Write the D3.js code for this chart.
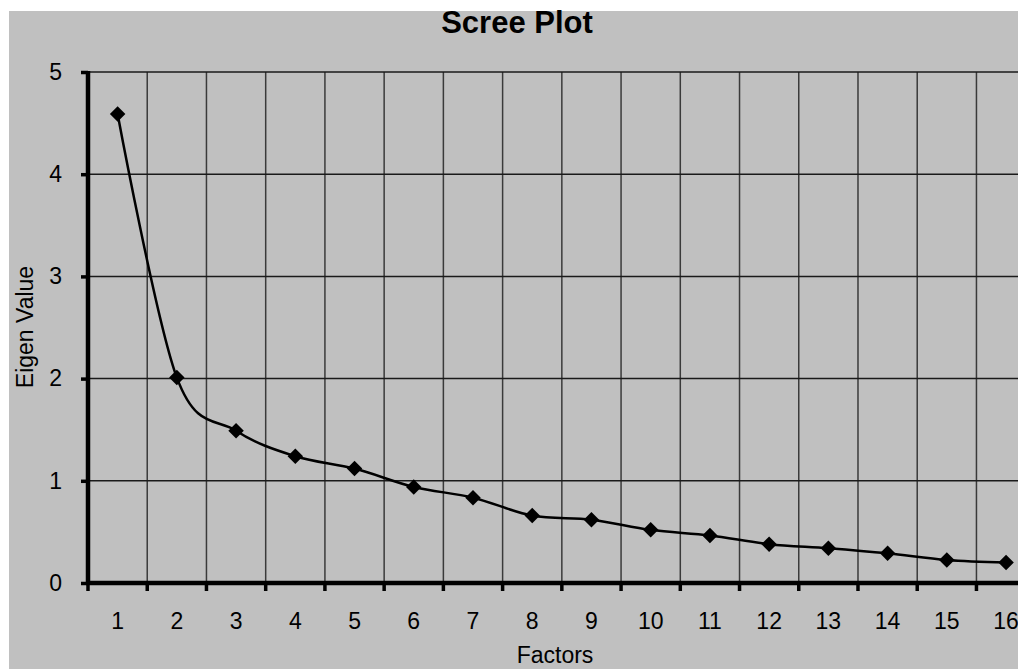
<!DOCTYPE html>
<html>
<head>
<meta charset="utf-8">
<script src="https://cdn.jsdelivr.net/npm/d3@7"></script>
<style>
  html, body { margin: 0; padding: 0; background: #ffffff; }
  svg { display: block; }
  text { font-family: "Liberation Sans", Arial, sans-serif; fill: #000; }
</style>
</head>
<body>
<svg id="chart" width="1018" height="669"></svg>
<script>
const factors = [1, 2, 3, 4, 5, 6, 7, 8, 9, 10, 11, 12, 13, 14, 15, 16];
const eigenValues = [4.59, 2.01, 1.49, 1.24, 1.12, 0.94, 0.835, 0.66, 0.62, 0.52, 0.465, 0.38, 0.34, 0.29, 0.225, 0.20];
const yTicks = [0, 1, 2, 3, 4, 5];
const chartTitle = "Scree Plot";
const xTitle = "Factors";
const yTitle = "Eigen Value";

(function () {
const svg = d3.select("#chart");
const W = 1018, H = 669;

// gray chart area
svg.append("rect").attr("x", 9).attr("y", 11).attr("width", W - 9).attr("height", H - 11).attr("fill", "#c0c0c0");

const mLeft = 88, mBottom = 583, mTop = 72, step = 59.23;
const x = d3.scaleBand().domain(factors).range([mLeft, mLeft + step * factors.length]).padding(0);
const y = d3.scaleLinear().domain([0, 5]).range([mBottom, mTop]);

const g = svg.append("g");

// vertical gridlines at category boundaries
const bounds = factors.map(f => x(f) + x.bandwidth());
g.selectAll("line.vg").data(bounds).join("line")
  .attr("x1", d => d).attr("x2", d => d)
  .attr("y1", y(5)).attr("y2", y(0))
  .attr("stroke", "#3a3a3a").attr("stroke-width", 1.5);

// horizontal gridlines
g.selectAll("line.hg").data(yTicks.filter(v => v > 0)).join("line")
  .attr("x1", mLeft).attr("x2", W)
  .attr("y1", d => y(d)).attr("y2", d => y(d))
  .attr("stroke", "#1a1a1a").attr("stroke-width", 1.5);

// y axis
const yAxis = svg.append("g").attr("transform", `translate(${mLeft},0)`)
  .call(d3.axisLeft(y).tickValues(yTicks).tickSize(7).tickPadding(19).tickFormat(d3.format("d")));
yAxis.select(".domain").remove();
yAxis.selectAll(".tick line").attr("stroke", "#000").attr("stroke-width", 3.5);
yAxis.selectAll(".tick text").attr("font-size", "23px").attr("font-family", "Liberation Sans, Arial, sans-serif").attr("fill", "#000");
svg.append("line").attr("x1", mLeft).attr("x2", mLeft).attr("y1", y(5) - 1).attr("y2", y(0) + 2)
  .attr("stroke", "#000").attr("stroke-width", 4.5);

// x axis
const xAxis = svg.append("g").attr("transform", `translate(0,${mBottom})`)
  .call(d3.axisBottom(x).tickSize(0).tickPadding(30));
xAxis.select(".domain").remove();
xAxis.selectAll(".tick text").attr("font-size", "23px").attr("font-family", "Liberation Sans, Arial, sans-serif").attr("fill", "#000");
svg.selectAll("line.xt").data([mLeft].concat(bounds)).join("line")
  .attr("class", "xt")
  .attr("x1", d => d).attr("x2", d => d)
  .attr("y1", mBottom).attr("y2", mBottom + 8)
  .attr("stroke", "#000").attr("stroke-width", 3.5);
svg.append("line").attr("x1", mLeft - 2).attr("x2", W).attr("y1", y(0)).attr("y2", y(0))
  .attr("stroke", "#000").attr("stroke-width", 4.5);

// series line
const pts = factors.map((f, i) => [x(f) + x.bandwidth() / 2, y(eigenValues[i])]);
svg.append("path").datum(pts)
  .attr("d", d3.line().curve(d3.curveCatmullRom.alpha(0)))
  .attr("fill", "none").attr("stroke", "#000").attr("stroke-width", 2.5);

// diamond markers
svg.selectAll("path.mk").data(pts).join("path")
  .attr("class", "mk")
  .attr("transform", d => `translate(${d[0]},${d[1]}) rotate(45)`)
  .attr("d", d3.symbol().type(d3.symbolSquare).size(120))
  .attr("fill", "#000");

// titles
svg.append("text").attr("x", 517).attr("y", 33).attr("text-anchor", "middle")
  .attr("font-size", "31px").attr("font-weight", "bold").text(chartTitle);
svg.append("text").attr("x", 555).attr("y", 663).attr("text-anchor", "middle")
  .attr("font-size", "23px").text(xTitle);
svg.append("text").attr("transform", "translate(33,327) rotate(-90)").attr("text-anchor", "middle")
  .attr("font-size", "23px").text(yTitle);
})();
</script>
</body>
</html>
